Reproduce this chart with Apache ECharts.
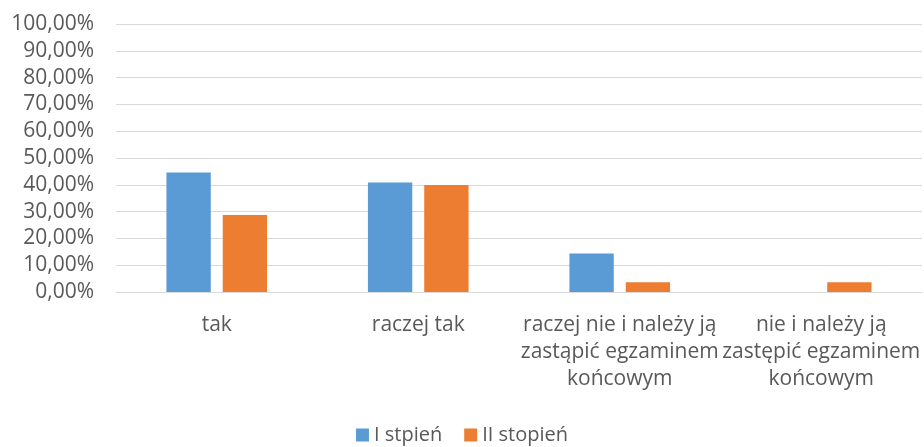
<!DOCTYPE html>
<html lang="pl">
<head>
    <meta charset="utf-8">
    <title>Chart</title>
    <style>
        * { margin: 0; padding: 0; }
        #chart-container { width: 924px; height: 447px; }
    </style>
</head>
<body>
    <div id="chart-container"></div>
    <script src="https://cdn.jsdelivr.net/npm/echarts@6/dist/echarts.min.js"></script>
    <script>
        var categories = [
            'tak',
            'raczej tak',
            'raczej nie i należy ją\nzastąpić egzaminem\nkońcowym',
            'nie i należy ją\nzastępić egzaminem\nkońcowym'
        ];
        var seriesNames = ['I stpień', 'II stopień'];
        var stopien1 = [44.6, 40.9, 14.4, 0];
        var stopien2 = [28.7, 39.9, 3.6, 3.6];

        var dom = document.getElementById('chart-container');
        var myChart = echarts.init(dom, null, { renderer: 'canvas' });
        var font = 'Open Sans, Noto Sans, sans-serif';

        var option = {
            animation: false,
            grid: { left: 116, right: 2, top: 24, bottom: 155, containLabel: false },
            legend: {
                top: 425,
                left: 'center',
                padding: 0,
                itemWidth: 13,
                itemHeight: 13,
                itemGap: 22,
                icon: 'rect',
                textStyle: { color: '#595959', fontSize: 20, fontFamily: font }
            },
            xAxis: {
                type: 'category',
                data: categories,
                axisLine: { lineStyle: { color: '#d9d9d9', width: 1 } },
                axisTick: { show: false },
                axisLabel: {
                    color: '#595959',
                    fontSize: 21,
                    fontFamily: font,
                    lineHeight: 27,
                    margin: 20,
                    interval: 0
                }
            },
            yAxis: {
                type: 'value',
                min: 0,
                max: 100,
                interval: 10,
                axisLine: { show: false },
                axisTick: { show: false },
                splitLine: { lineStyle: { color: '#d9d9d9', width: 1 } },
                axisLabel: {
                    color: '#595959',
                    fontSize: 21,
                    fontFamily: font,
                    margin: 22,
                    formatter: function (v) { return v.toFixed(2).replace('.', ',') + '%'; }
                }
            },
            series: [
                {
                    name: seriesNames[0],
                    type: 'bar',
                    data: stopien1,
                    barWidth: '22%',
                    barGap: '27%',
                    itemStyle: { color: '#5b9bd5' }
                },
                {
                    name: seriesNames[1],
                    type: 'bar',
                    data: stopien2,
                    barWidth: '22%',
                    itemStyle: { color: '#ed7d31' }
                }
            ]
        };

        myChart.setOption(option);
        window.addEventListener('resize', myChart.resize);
    </script>
</body>
</html>
